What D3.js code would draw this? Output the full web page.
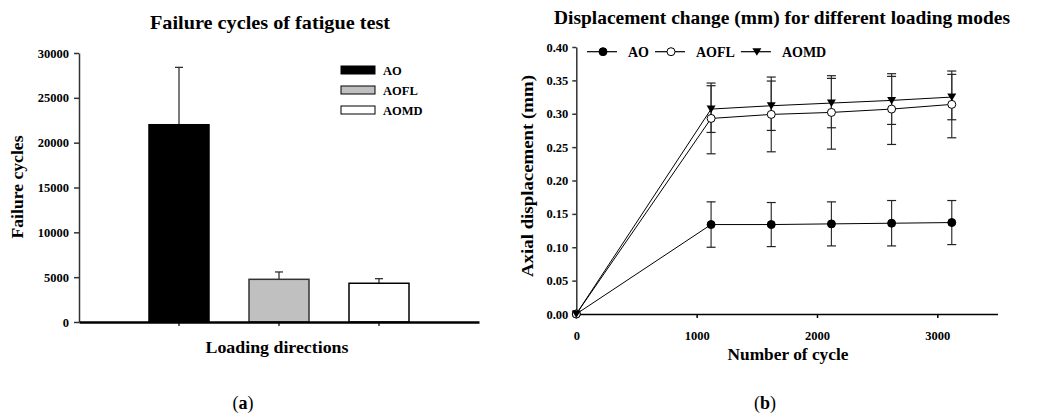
<!DOCTYPE html>
<html>
<head>
<meta charset="utf-8">
<script src="https://cdn.jsdelivr.net/npm/d3@7"></script>
<style>
  body { margin: 0; background: #fff; }
  svg { display: block; }
  text { font-family: "Liberation Serif", "Times New Roman", serif; font-weight: bold; fill: #000; }
</style>
</head>
<body>
<svg id="fig" width="1040" height="417"></svg>
<script>
// panel (a) : failure cycles
const barCats = ['AO', 'AOFL', 'AOMD'];
const barVals = [22000, 4760, 4320];
const barErr = [6400, 820, 510];
const barTicks = [0, 5000, 10000, 15000, 20000, 25000, 30000];
const barFill = ['#000', '#c0c0c0', '#fff'];

// panel (b) : displacement vs cycles
const cycles = [0, 1120, 1620, 2120, 2620, 3120];
const aoVals = [0, 0.134, 0.134, 0.135, 0.136, 0.137];
const aoErr = [0, 0.034, 0.033, 0.033, 0.034, 0.033];
const aoflVals = [0, 0.293, 0.299, 0.302, 0.307, 0.314];
const aoflErr = [0, 0.053, 0.056, 0.055, 0.053, 0.050];
const aomdVals = [0, 0.307, 0.312, 0.316, 0.320, 0.325];
const aomdErr = [0, 0.035, 0.037, 0.037, 0.036, 0.034];
const dispTicks = [0, 0.05, 0.10, 0.15, 0.20, 0.25, 0.30, 0.35, 0.40];
const cycleTicks = [0, 1000, 2000, 3000];

const svg = d3.select('#fig');

function label(txt, x, y, size, len, rot){
    let t = svg.append('text')
        .attr('x', x).attr('y', y)
        .attr('text-anchor', 'middle')
        .style('font-size', size + 'px')
        .text(txt);
    if(len) t.attr('textLength', len).attr('lengthAdjust', 'spacingAndGlyphs');
    if(rot) t.attr('transform', `rotate(-90 ${x} ${y})`);
    return t;
}
function styleAxis(g, size){
    g.attr('font-family', null).attr('font-size', null);
    g.selectAll('text').style('font-size', size + 'px');
}

// ---------- (a) bars ----------
let xa = d3.scaleBand().domain(barCats).range([79, 479]).paddingInner(0.4).paddingOuter(0.7),
    ya = d3.scaleLinear().domain([0, 30000]).range([322, 53]);

let ga = svg.append('g');
ga.append('g')
    .attr('transform', 'translate(79,0)')
    .call(d3.axisLeft(ya).tickValues(barTicks).tickFormat(d3.format('d')).tickSize(5).tickSizeOuter(0).tickPadding(5))
    .call(g => styleAxis(g, 12.5))
    .call(g => g.selectAll('path,line').attr('stroke', '#333').attr('stroke-width', 1.5));

let bars = barCats.map((c, i) => ({c: c, v: barVals[i], e: barErr[i], f: barFill[i]}));

// error bars first, bar body covers the lower half
bars.forEach(d => {
    let cx = xa(d.c) + xa.bandwidth() / 2;
    ga.append('line').attr('x1', cx).attr('x2', cx)
        .attr('y1', ya(d.v)).attr('y2', ya(d.v + d.e))
        .attr('stroke', '#222').attr('stroke-width', 1.2);
    ga.append('line').attr('x1', cx - 4).attr('x2', cx + 4)
        .attr('y1', ya(d.v + d.e)).attr('y2', ya(d.v + d.e))
        .attr('stroke', '#222').attr('stroke-width', 1.2);
});
ga.selectAll('.bar').data(bars).enter()
    .append('rect')
    .attr('class', 'bar')
    .attr('x', d => xa(d.c))
    .attr('width', xa.bandwidth())
    .attr('y', d => ya(d.v))
    .attr('height', d => ya(0) - ya(d.v))
    .attr('fill', d => d.f)
    .attr('stroke', (d, i) => i == 1 ? '#333' : '#000')
    .attr('stroke-width', 1.5);

ga.append('g')
    .attr('transform', 'translate(0,322)')
    .call(d3.axisBottom(xa).tickSize(4).tickSizeOuter(0).tickFormat(''))
    .call(g => g.select('.domain').attr('stroke', '#000').attr('stroke-width', 2.5))
    .call(g => g.selectAll('line').attr('stroke', '#000').attr('stroke-width', 1.2));

// legend (a)
barCats.forEach((c, i) => {
    let y0 = 66 + i * 20;
    ga.append('rect').attr('x', 341).attr('y', y0).attr('width', 34).attr('height', 8)
        .attr('fill', barFill[i]).attr('stroke', '#000').attr('stroke-width', 1);
    ga.append('text').attr('x', 383).attr('y', y0 + 8.5).style('font-size', '12.5px').text(c);
});

label('Failure cycles of fatigue test', 270, 29, 19, 240);
label('Loading directions', 277, 353, 17, 143);
label('Failure cycles', 23, 187, 17, 103, true);
let ta = svg.append('text').attr('x', 243).attr('y', 409).attr('text-anchor', 'middle')
    .style('font-size', '18px').style('font-weight', 'normal');
ta.append('tspan').text('(');
ta.append('tspan').style('font-weight', 'bold').text('a');
ta.append('tspan').text(')');

// ---------- (b) lines ----------
let xb = d3.scaleLinear().domain([0, 3500]).range([576.3, 997.5]),
    yb = d3.scaleLinear().domain([0, 0.4]).range([314, 47]);

let gb = svg.append('g');
gb.append('g')
    .attr('transform', 'translate(576.3,0)')
    .call(d3.axisLeft(yb).tickValues(dispTicks).tickFormat(d3.format('.2f')).tickSize(4).tickSizeOuter(0).tickPadding(4))
    .call(g => styleAxis(g, 12.5))
    .call(g => g.selectAll('path,line').attr('stroke', '#333').attr('stroke-width', 1.5));
gb.append('g')
    .attr('transform', 'translate(0,314)')
    .call(d3.axisBottom(xb).tickValues(cycleTicks).tickFormat(d3.format('d')).tickSize(4).tickSizeOuter(0).tickPadding(13))
    .call(g => styleAxis(g, 12.5))
    .call(g => g.selectAll('path,line').attr('stroke', '#000').attr('stroke-width', 1.5));

let series = [
    {name: 'AO', vals: aoVals, err: aoErr, mark: 'fill'},
    {name: 'AOFL', vals: aoflVals, err: aoflErr, mark: 'open'},
    {name: 'AOMD', vals: aomdVals, err: aomdErr, mark: 'tri'}
];
let line = d3.line().x((d, i) => xb(cycles[i])).y(d => yb(d));

function marker(g, m, x, y){
    if(m == 'tri'){
        g.append('path')
            .attr('d', `M${x - 4.5},${y - 3.5}L${x + 4.5},${y - 3.5}L${x},${y + 4}Z`)
            .attr('fill', '#000');
    }else{
        g.append('circle').attr('cx', x).attr('cy', y).attr('r', 4)
            .attr('fill', m == 'fill' ? '#000' : '#fff')
            .attr('stroke', '#000').attr('stroke-width', 1);
    }
}

series.forEach(s => {
    gb.append('path').attr('d', line(s.vals))
        .attr('fill', 'none').attr('stroke', '#000').attr('stroke-width', 1);
});
series.forEach(s => {
    s.vals.forEach((v, i) => {
        if(!s.err[i]) return;
        let cx = xb(cycles[i]), t = yb(v + s.err[i]), b = yb(v - s.err[i]);
        gb.append('line').attr('x1', cx).attr('x2', cx).attr('y1', t).attr('y2', b)
            .attr('stroke', '#333').attr('stroke-width', 1.2);
        [t, b].forEach(yy => gb.append('line')
            .attr('x1', cx - 4.5).attr('x2', cx + 4.5).attr('y1', yy).attr('y2', yy)
            .attr('stroke', '#222').attr('stroke-width', 1.2));
    });
});
series.forEach(s => {
    s.vals.forEach((v, i) => marker(gb, s.mark, xb(cycles[i]), yb(v)));
});

// legend (b)
let lx = 587;
series.forEach(s => {
    gb.append('line').attr('x1', lx).attr('x2', lx + 30).attr('y1', 51.7).attr('y2', 51.7)
        .attr('stroke', '#000').attr('stroke-width', 1.2);
    marker(gb, s.mark, lx + 16, 51.7);
    let t = gb.append('text').attr('x', lx + 41).attr('y', 56.5).style('font-size', '14px').text(s.name);
    lx += 41 + t.node().getComputedTextLength() + 6;
});

label('Displacement change (mm) for different loading modes', 782, 24, 19, 456);
label('Number of cycle', 788, 360, 17, 121);
label('Axial displacement (mm)', 533, 176, 17, 202, true);
let tb = svg.append('text').attr('x', 765).attr('y', 409).attr('text-anchor', 'middle')
    .style('font-size', '18px').style('font-weight', 'normal');
tb.append('tspan').text('(');
tb.append('tspan').style('font-weight', 'bold').text('b');
tb.append('tspan').text(')');
</script>
</body>
</html>
